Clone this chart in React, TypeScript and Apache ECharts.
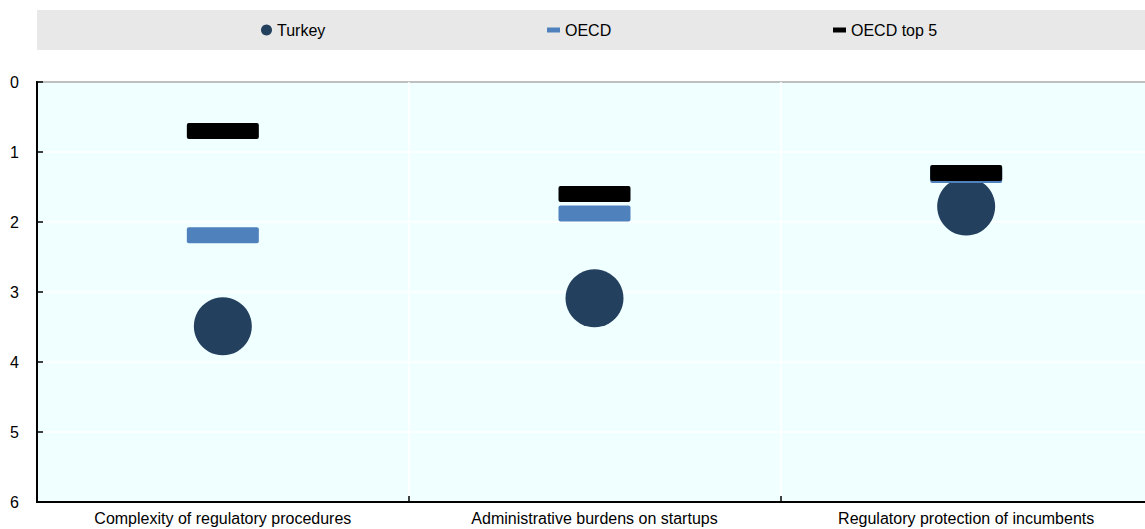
import React, { useEffect, useRef } from "react";
import * as echarts from "echarts";

const categories = [
  "Complexity of regulatory procedures",
  "Administrative burdens on startups",
  "Regulatory protection of incumbents",
];
const turkey = [3.49, 3.09, 1.78];
const oecd = [2.19, 1.88, 1.33];
const oecdTop5 = [0.7, 1.6, 1.3];
const seriesNames = ["Turkey", "OECD", "OECD top 5"];

const FONT = "'Liberation Sans', Arial, sans-serif";
const BAR = "path://M2,0 L70,0 Q72,0 72,2 L72,14 Q72,16 70,16 L2,16 Q0,16 0,14 L0,2 Q0,0 2,0 Z";

export default function App() {
  const ref = useRef<HTMLDivElement>(null);
  useEffect(() => {
    document.body.style.margin = "0";
    if (!ref.current) return;
    const chart = echarts.init(ref.current, undefined, { renderer: "svg" });
    const legendText = { fontSize: 16, color: "#000", fontFamily: FONT };
    chart.setOption({
      animation: false,
      textStyle: { fontFamily: FONT },
      graphic: [
        {
          type: "rect",
          shape: { x: 37, y: 10, width: 1108, height: 40 },
          style: { fill: "#e8e8e8" },
          z: -1,
        },
      ],
      legend: [
        {
          data: [{ name: seriesNames[0], icon: "circle" }],
          left: 261,
          top: 22,
          padding: 0,
          itemWidth: 11,
          itemHeight: 11,
          textStyle: legendText,
        },
        {
          data: [{ name: seriesNames[1], icon: "rect" }],
          left: 547,
          top: 22,
          padding: 0,
          itemWidth: 13,
          itemHeight: 5,
          textStyle: legendText,
        },
        {
          data: [{ name: seriesNames[2], icon: "rect" }],
          left: 833,
          top: 22,
          padding: 0,
          itemWidth: 13,
          itemHeight: 5,
          textStyle: legendText,
        },
      ],
      grid: {
        left: 37,
        top: 82,
        width: 1115,
        height: 420,
        show: true,
        backgroundColor: "#f0ffff",
        borderWidth: 2,
        borderColor: "#000",
        containLabel: false,
        outerBoundsMode: "none",
      },
      xAxis: {
        type: "category",
        data: categories,
        position: "bottom",
        boundaryGap: true,
        axisLine: { show: true, onZero: false, lineStyle: { color: "#000", width: 2 } },
        axisTick: { show: true, inside: true, length: 6, lineStyle: { color: "#000", width: 1.5 } },
        splitLine: { show: true, lineStyle: { color: "#ffffff", width: 1.5 } },
        axisLabel: { fontSize: 16, color: "#000", margin: 8, fontFamily: FONT },
      },
      yAxis: {
        type: "value",
        inverse: true,
        min: 0,
        max: 6,
        interval: 1,
        axisLine: { show: true, onZero: false, lineStyle: { color: "#000", width: 2 } },
        axisTick: { show: true, inside: true, length: 6, lineStyle: { color: "#000", width: 1.5 } },
        splitLine: { show: true, lineStyle: { color: "#ffffff", width: 1.5 } },
        axisLabel: { fontSize: 16, color: "#000", margin: 18, fontFamily: FONT },
      },
      series: [
        {
          name: seriesNames[0],
          type: "scatter",
          data: turkey,
          symbol: "circle",
          symbolSize: 58,
          itemStyle: { color: "#24405f", opacity: 1 },
          z: 2,
        },
        {
          name: seriesNames[1],
          type: "scatter",
          data: oecd,
          symbol: BAR,
          symbolSize: [72, 16],
          itemStyle: { color: "#4f81bd", opacity: 1 },
          z: 3,
        },
        {
          name: seriesNames[2],
          type: "scatter",
          data: oecdTop5,
          symbol: BAR,
          symbolSize: [72, 16],
          itemStyle: { color: "#000000", opacity: 1 },
          z: 4,
        },
      ],
    });
    return () => chart.dispose();
  }, []);
  return <div ref={ref} style={{ width: 1145, height: 529 }} />;
}
